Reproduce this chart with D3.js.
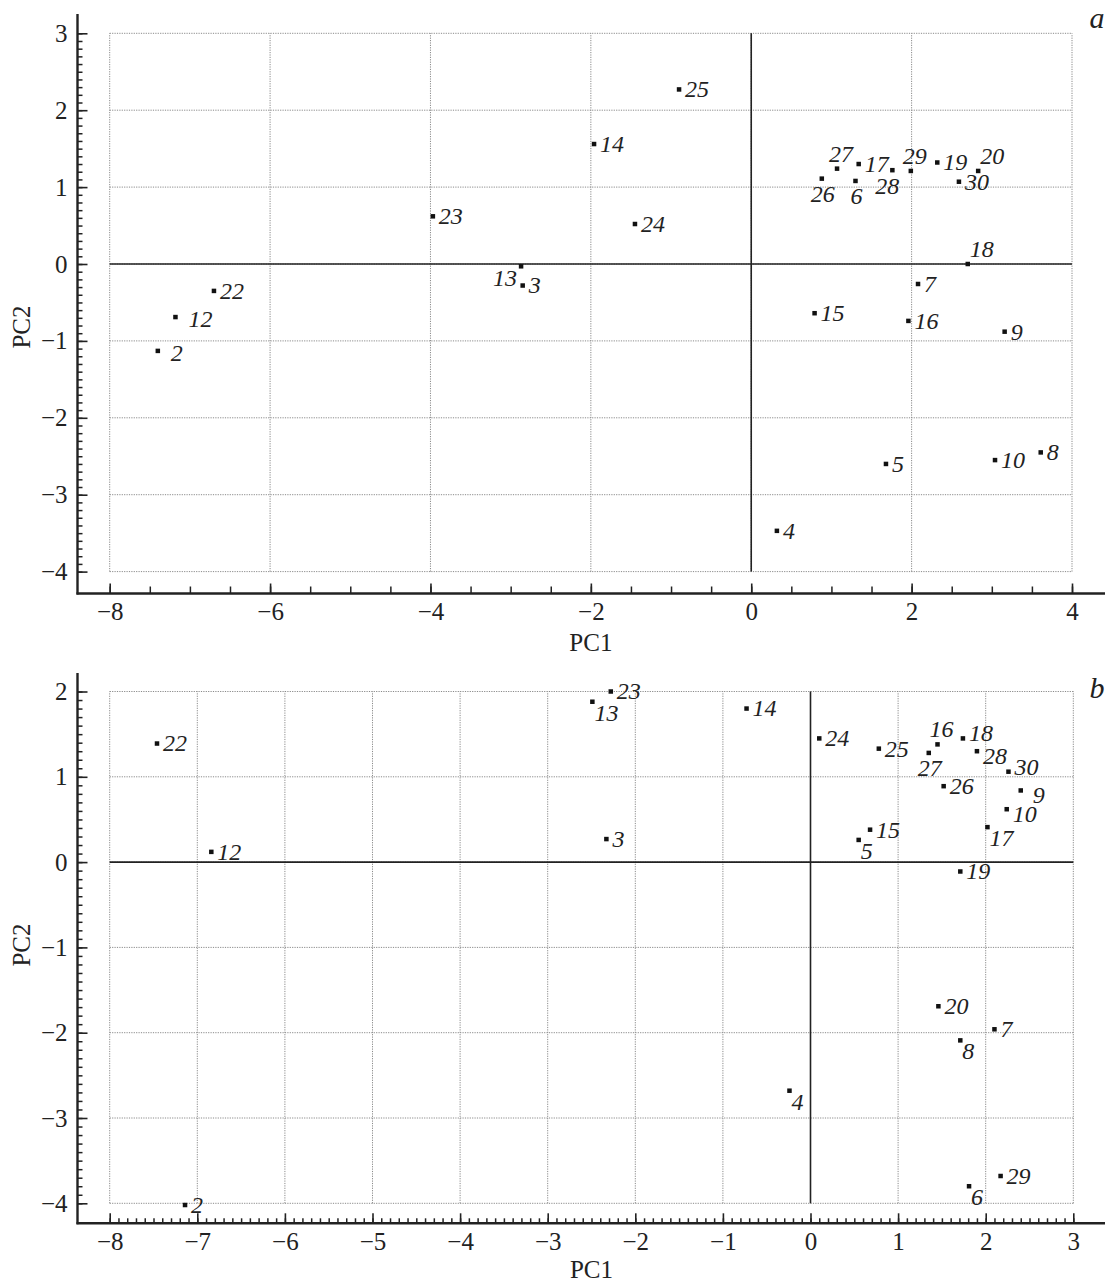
<!DOCTYPE html>
<html><head><meta charset="utf-8">
<script src="https://cdn.jsdelivr.net/npm/d3@7/dist/d3.min.js"></script>
<style>
html,body{margin:0;padding:0;background:#fff;}
svg{display:block;}
text{font-family:"Liberation Serif","Times New Roman",Times,serif;fill:#222;}
</style></head><body>
<svg id="chart" width="1109" height="1282"></svg>
<script>
// ---------- Panel a ----------
const idsA   = [2, 3, 4, 5, 6, 7, 8, 9, 10, 12, 13, 14, 15, 16, 17, 18, 19, 20, 22, 23, 24, 25, 26, 27, 28, 29, 30];
const pc1A   = [-7.40, -2.85, 0.32, 1.68, 1.30, 2.08, 3.61, 3.16, 3.04, -7.18, -2.87, -1.96, 0.79, 1.96, 1.34, 2.70, 2.32, 2.83, -6.70, -3.97, -1.45, -0.90, 0.88, 1.07, 1.76, 1.99, 2.59];
const pc2A   = [-1.13, -0.28, -3.47, -2.60, 1.08, -0.26, -2.45, -0.88, -2.55, -0.69, -0.03, 1.56, -0.64, -0.74, 1.30, 0.00, 1.32, 1.21, -0.35, 0.62, 0.52, 2.27, 1.11, 1.24, 1.22, 1.21, 1.07];
const placeA = ["rr","r","r","r","b","r","r","r","r","rr","l","r","r","r","r","ar","r","ar","r","r","r","r","b","a","bl","a","r"];
const xTicksA = [-8, -6, -4, -2, 0, 2, 4];
const yTicksA = [-4, -3, -2, -1, 0, 1, 2, 3];

// ---------- Panel b ----------
const idsB   = [2, 3, 4, 5, 6, 7, 8, 9, 10, 12, 13, 14, 15, 16, 17, 18, 19, 20, 22, 23, 24, 25, 26, 27, 28, 29, 30];
const pc1B   = [-7.14, -2.33, -0.24, 0.55, 1.81, 2.10, 1.71, 2.40, 2.24, -6.84, -2.49, -0.73, 0.68, 1.45, 2.02, 1.74, 1.71, 1.46, -7.46, -2.28, 0.10, 0.78, 1.52, 1.35, 1.90, 2.17, 2.26];
const pc2B   = [-4.02, 0.27, -2.68, 0.26, -3.80, -1.96, -2.09, 0.84, 0.62, 0.12, 1.88, 1.80, 0.38, 1.38, 0.41, 1.45, -0.11, -1.69, 1.39, 2.00, 1.45, 1.33, 0.89, 1.28, 1.30, -3.68, 1.06];
const placeB = ["r","r","br","br","br","r","br","rrd","rd","r","br","r","r","a","br","ru","r","r","r","r","r","r","r","b","rd","r","ru"];
const xTicksB = [-8, -7, -6, -5, -4, -3, -2, -1, 0, 1, 2, 3];
const yTicksB = [-4, -3, -2, -1, 0, 1, 2];

const panels = [
  {letter:"a", ids:idsA, pc1:pc1A, pc2:pc2A, place:placeA, xt:xTicksA, yt:yTicksA,
   xDom:[-8,4], yDom:[-4,3], xMinorStep:0.5, xMinorLen:7,
   xr:[109.7,1072], yr:[571.6,33.3], axisTop:14, axisBottom:593.5, titleY:643, ytitleY:327, letterY:28},
  {letter:"b", ids:idsB, pc1:pc1B, pc2:pc2B, place:placeB, xt:xTicksB, yt:yTicksB,
   xDom:[-8,3], yDom:[-4,2], xMinorStep:0.1, xMinorLen:5,
   xr:[109.7,1073.3], yr:[1203.3,691.5], axisTop:673, axisBottom:1223.3, titleY:1270, ytitleY:945, letterY:698}
];

const svg = d3.select("#chart");
const axisX = 77.5, axisRight = 1105;
const fmt = d3.format("d");
const FS = 25, LFS = 24;

// label placement offsets (label center relative to marker)
const placeStyle = {
  r:   {anchor:"start",  dx:6,  dy:0},
  ru:  {anchor:"start",  dx:6,  dy:-5},
  rd:  {anchor:"start",  dx:6,  dy:5},
  rr:  {anchor:"start",  dx:13, dy:2},
  rrd: {anchor:"start",  dx:12, dy:5},
  l:   {anchor:"end",    dx:-4, dy:12},
  a:   {anchor:"middle", dx:4,  dy:-15},
  ar:  {anchor:"start",  dx:2,  dy:-15},
  b:   {anchor:"middle", dx:1,  dy:15},
  bl:  {anchor:"middle", dx:-5, dy:16},
  br:  {anchor:"start",  dx:2,  dy:11}
};

panels.forEach(p => {
  const x = d3.scaleLinear().domain(p.xDom).range(p.xr);
  const y = d3.scaleLinear().domain(p.yDom).range(p.yr);
  const g = svg.append("g");

  // dotted grid
  const grid = g.append("g").attr("stroke","#8a8a8a").attr("stroke-width",1).attr("stroke-dasharray","1.2,1.2").attr("fill","none");
  p.xt.forEach(v => grid.append("line").attr("x1",x(v)).attr("x2",x(v)).attr("y1",y(p.yDom[0])).attr("y2",y(p.yDom[1])));
  p.yt.forEach(v => grid.append("line").attr("y1",y(v)).attr("y2",y(v)).attr("x1",x(p.xDom[0])).attr("x2",x(p.xDom[1])));

  // zero lines
  g.append("line").attr("x1",x(p.xDom[0])).attr("x2",x(p.xDom[1])).attr("y1",y(0)).attr("y2",y(0))
    .attr("stroke","#222").attr("stroke-width",1.6);
  g.append("line").attr("x1",x(0)).attr("x2",x(0)).attr("y1",y(p.yDom[0])).attr("y2",y(p.yDom[1]))
    .attr("stroke","#222").attr("stroke-width",1.6);

  // y axis: minor + major ticks pointing inward
  const yMinor = d3.range(Math.round(p.yDom[0]*10), Math.round(p.yDom[1]*10)+1).map(d => d/10);
  g.append("g").attr("transform",`translate(${axisX},0)`)
    .call(d3.axisLeft(y).tickValues(yMinor).tickSize(-5).tickFormat(""))
    .call(s => { s.select(".domain").remove(); s.selectAll("line").attr("stroke","#222").attr("stroke-width",1.5); });
  g.append("g").attr("transform",`translate(${axisX},0)`)
    .call(d3.axisLeft(y).tickValues(p.yt).tickSize(-10).tickPadding(10).tickFormat(fmt))
    .call(s => { s.attr("font-family",null); s.select(".domain").remove(); s.selectAll("line").attr("stroke","#222").attr("stroke-width",1.6);
      s.selectAll("text").attr("font-size",FS).attr("fill","#222"); });

  // x axis
  const nMin = Math.round((p.xDom[1]-p.xDom[0])/p.xMinorStep);
  const xMinor = d3.range(0, nMin+1).map(i => +(p.xDom[0] + i*p.xMinorStep).toFixed(2));
  g.append("g").attr("transform",`translate(0,${p.axisBottom})`)
    .call(d3.axisBottom(x).tickValues(xMinor).tickSize(-p.xMinorLen).tickFormat(""))
    .call(s => { s.select(".domain").remove(); s.selectAll("line").attr("stroke","#222").attr("stroke-width",1.5); });
  g.append("g").attr("transform",`translate(0,${p.axisBottom})`)
    .call(d3.axisBottom(x).tickValues(p.xt).tickSize(-10).tickPadding(9).tickFormat(fmt))
    .call(s => { s.attr("font-family",null); s.select(".domain").remove(); s.selectAll("line").attr("stroke","#222").attr("stroke-width",1.6);
      s.selectAll("text").attr("font-size",FS).attr("fill","#222"); });

  // axis lines
  g.append("line").attr("x1",axisX).attr("x2",axisX).attr("y1",p.axisTop).attr("y2",p.axisBottom+1)
    .attr("stroke","#222").attr("stroke-width",2.4);
  g.append("line").attr("x1",axisX-1).attr("x2",axisRight).attr("y1",p.axisBottom).attr("y2",p.axisBottom)
    .attr("stroke","#222").attr("stroke-width",2.4);

  // axis titles
  g.append("text").attr("x",(p.xr[0]+p.xr[1])/2).attr("y",p.titleY+8).attr("text-anchor","middle")
    .attr("font-size",FS).text("PC1");
  g.append("text").attr("transform",`translate(30,${p.ytitleY}) rotate(-90)`).attr("text-anchor","middle")
    .attr("font-size",FS).text("PC2");

  // panel letter
  g.append("text").attr("x",1097).attr("y",p.letterY).attr("text-anchor","middle")
    .attr("font-size",30).attr("font-style","italic").text(p.letter);

  // points
  const data = p.ids.map((id,i) => ({id, v1:p.pc1[i], v2:p.pc2[i], pl:p.place[i]}));
  const ms = 4.5;
  g.append("g").selectAll("rect").data(data).join("rect")
    .attr("x", d => x(d.v1)-ms/2).attr("y", d => y(d.v2)-ms/2)
    .attr("width", ms).attr("height", ms).attr("fill","#111");
  g.append("g").selectAll("text").data(data).join("text")
    .attr("x", d => x(d.v1) + placeStyle[d.pl].dx)
    .attr("y", d => y(d.v2) + placeStyle[d.pl].dy + LFS*0.33)
    .attr("text-anchor", d => placeStyle[d.pl].anchor)
    .attr("font-size", LFS).attr("font-style","italic")
    .text(d => d.id);
});
</script>
</body></html>
